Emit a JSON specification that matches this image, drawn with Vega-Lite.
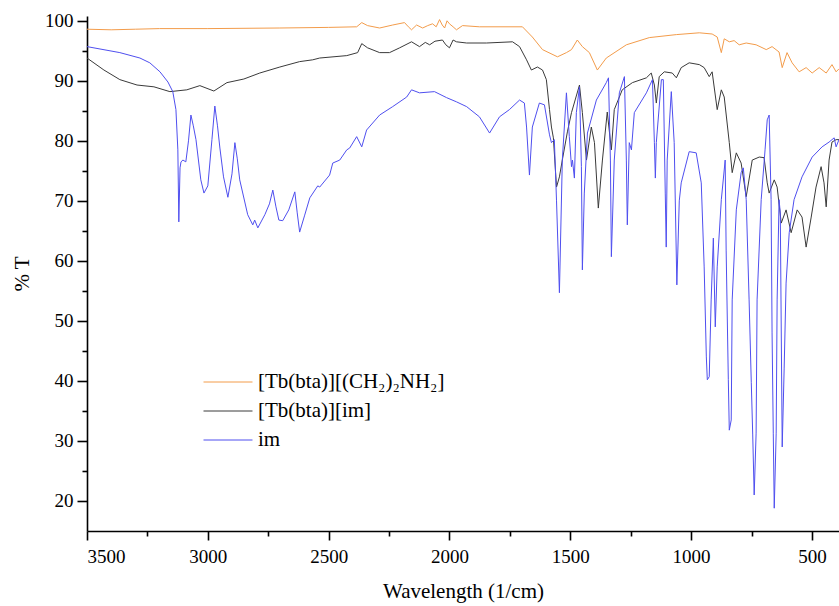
{
"$schema": "https://vega.github.io/schema/vega-lite/v6.json",
"width": 752, "height": 515,
"autosize": {"type": "none"},
"padding": {"left": 87, "top": 16, "right": 0, "bottom": 75},
"background": "white",
"config": {"view": {"stroke": null}, "font": "Liberation Serif"},
"data": {"values": [
{"s":"[Tb(bta)][(CH₂)₂NH₂]","x":3500,"y":98.6},{"s":"[Tb(bta)][(CH₂)₂NH₂]","x":3400,"y":98.5},{"s":"[Tb(bta)][(CH₂)₂NH₂]","x":3300,"y":98.6},{"s":"[Tb(bta)][(CH₂)₂NH₂]","x":3200,"y":98.7},{"s":"[Tb(bta)][(CH₂)₂NH₂]","x":3000,"y":98.7},{"s":"[Tb(bta)][(CH₂)₂NH₂]","x":2702,"y":98.8},{"s":"[Tb(bta)][(CH₂)₂NH₂]","x":2500,"y":98.9},{"s":"[Tb(bta)][(CH₂)₂NH₂]","x":2384,"y":99.0},{"s":"[Tb(bta)][(CH₂)₂NH₂]","x":2363,"y":99.7},{"s":"[Tb(bta)][(CH₂)₂NH₂]","x":2339,"y":99.2},{"s":"[Tb(bta)][(CH₂)₂NH₂]","x":2289,"y":98.8},{"s":"[Tb(bta)][(CH₂)₂NH₂]","x":2235,"y":99.3},{"s":"[Tb(bta)][(CH₂)₂NH₂]","x":2186,"y":99.7},{"s":"[Tb(bta)][(CH₂)₂NH₂]","x":2170,"y":99.0},{"s":"[Tb(bta)][(CH₂)₂NH₂]","x":2157,"y":98.5},{"s":"[Tb(bta)][(CH₂)₂NH₂]","x":2136,"y":99.3},{"s":"[Tb(bta)][(CH₂)₂NH₂]","x":2111,"y":98.8},{"s":"[Tb(bta)][(CH₂)₂NH₂]","x":2090,"y":99.2},{"s":"[Tb(bta)][(CH₂)₂NH₂]","x":2070,"y":99.5},{"s":"[Tb(bta)][(CH₂)₂NH₂]","x":2055,"y":99.0},{"s":"[Tb(bta)][(CH₂)₂NH₂]","x":2041,"y":100.2},{"s":"[Tb(bta)][(CH₂)₂NH₂]","x":2030,"y":99.3},{"s":"[Tb(bta)][(CH₂)₂NH₂]","x":2020,"y":98.8},{"s":"[Tb(bta)][(CH₂)₂NH₂]","x":2010,"y":100.0},{"s":"[Tb(bta)][(CH₂)₂NH₂]","x":2000,"y":99.5},{"s":"[Tb(bta)][(CH₂)₂NH₂]","x":1985,"y":99.0},{"s":"[Tb(bta)][(CH₂)₂NH₂]","x":1971,"y":98.5},{"s":"[Tb(bta)][(CH₂)₂NH₂]","x":1946,"y":99.2},{"s":"[Tb(bta)][(CH₂)₂NH₂]","x":1876,"y":99.0},{"s":"[Tb(bta)][(CH₂)₂NH₂]","x":1698,"y":99.0},{"s":"[Tb(bta)][(CH₂)₂NH₂]","x":1657,"y":97.3},{"s":"[Tb(bta)][(CH₂)₂NH₂]","x":1615,"y":95.2},{"s":"[Tb(bta)][(CH₂)₂NH₂]","x":1553,"y":94.0},{"s":"[Tb(bta)][(CH₂)₂NH₂]","x":1516,"y":94.7},{"s":"[Tb(bta)][(CH₂)₂NH₂]","x":1495,"y":95.2},{"s":"[Tb(bta)][(CH₂)₂NH₂]","x":1471,"y":96.8},{"s":"[Tb(bta)][(CH₂)₂NH₂]","x":1450,"y":95.7},{"s":"[Tb(bta)][(CH₂)₂NH₂]","x":1421,"y":94.7},{"s":"[Tb(bta)][(CH₂)₂NH₂]","x":1388,"y":91.8},{"s":"[Tb(bta)][(CH₂)₂NH₂]","x":1351,"y":93.8},{"s":"[Tb(bta)][(CH₂)₂NH₂]","x":1268,"y":96.0},{"s":"[Tb(bta)][(CH₂)₂NH₂]","x":1173,"y":97.2},{"s":"[Tb(bta)][(CH₂)₂NH₂]","x":1061,"y":97.7},{"s":"[Tb(bta)][(CH₂)₂NH₂]","x":966,"y":98.0},{"s":"[Tb(bta)][(CH₂)₂NH₂]","x":913,"y":97.8},{"s":"[Tb(bta)][(CH₂)₂NH₂]","x":892,"y":97.3},{"s":"[Tb(bta)][(CH₂)₂NH₂]","x":875,"y":94.7},{"s":"[Tb(bta)][(CH₂)₂NH₂]","x":863,"y":97.0},{"s":"[Tb(bta)][(CH₂)₂NH₂]","x":842,"y":96.5},{"s":"[Tb(bta)][(CH₂)₂NH₂]","x":822,"y":96.7},{"s":"[Tb(bta)][(CH₂)₂NH₂]","x":801,"y":96.0},{"s":"[Tb(bta)][(CH₂)₂NH₂]","x":772,"y":96.3},{"s":"[Tb(bta)][(CH₂)₂NH₂]","x":731,"y":96.0},{"s":"[Tb(bta)][(CH₂)₂NH₂]","x":689,"y":95.2},{"s":"[Tb(bta)][(CH₂)₂NH₂]","x":665,"y":95.7},{"s":"[Tb(bta)][(CH₂)₂NH₂]","x":636,"y":94.8},{"s":"[Tb(bta)][(CH₂)₂NH₂]","x":623,"y":92.2},{"s":"[Tb(bta)][(CH₂)₂NH₂]","x":603,"y":94.7},{"s":"[Tb(bta)][(CH₂)₂NH₂]","x":582,"y":93.0},{"s":"[Tb(bta)][(CH₂)₂NH₂]","x":553,"y":91.5},{"s":"[Tb(bta)][(CH₂)₂NH₂]","x":524,"y":92.2},{"s":"[Tb(bta)][(CH₂)₂NH₂]","x":499,"y":91.3},{"s":"[Tb(bta)][(CH₂)₂NH₂]","x":470,"y":92.2},{"s":"[Tb(bta)][(CH₂)₂NH₂]","x":441,"y":91.3},{"s":"[Tb(bta)][(CH₂)₂NH₂]","x":417,"y":92.7},{"s":"[Tb(bta)][(CH₂)₂NH₂]","x":400,"y":91.5},{"s":"[Tb(bta)][(CH₂)₂NH₂]","x":388,"y":92.0},
{"s":"[Tb(bta)][im]","x":3500,"y":93.8},{"s":"[Tb(bta)][im]","x":3430,"y":91.8},{"s":"[Tb(bta)][im]","x":3364,"y":90.2},{"s":"[Tb(bta)][im]","x":3293,"y":89.3},{"s":"[Tb(bta)][im]","x":3223,"y":89.0},{"s":"[Tb(bta)][im]","x":3157,"y":88.2},{"s":"[Tb(bta)][im]","x":3087,"y":88.5},{"s":"[Tb(bta)][im]","x":3033,"y":89.2},{"s":"[Tb(bta)][im]","x":2975,"y":88.3},{"s":"[Tb(bta)][im]","x":2921,"y":89.7},{"s":"[Tb(bta)][im]","x":2851,"y":90.3},{"s":"[Tb(bta)][im]","x":2785,"y":91.3},{"s":"[Tb(bta)][im]","x":2702,"y":92.3},{"s":"[Tb(bta)][im]","x":2620,"y":93.2},{"s":"[Tb(bta)][im]","x":2566,"y":93.5},{"s":"[Tb(bta)][im]","x":2537,"y":93.8},{"s":"[Tb(bta)][im]","x":2425,"y":94.2},{"s":"[Tb(bta)][im]","x":2380,"y":94.7},{"s":"[Tb(bta)][im]","x":2363,"y":96.2},{"s":"[Tb(bta)][im]","x":2339,"y":95.5},{"s":"[Tb(bta)][im]","x":2289,"y":94.7},{"s":"[Tb(bta)][im]","x":2248,"y":94.7},{"s":"[Tb(bta)][im]","x":2206,"y":95.5},{"s":"[Tb(bta)][im]","x":2157,"y":96.5},{"s":"[Tb(bta)][im]","x":2124,"y":95.7},{"s":"[Tb(bta)][im]","x":2100,"y":96.4},{"s":"[Tb(bta)][im]","x":2082,"y":96.0},{"s":"[Tb(bta)][im]","x":2060,"y":96.6},{"s":"[Tb(bta)][im]","x":2029,"y":96.8},{"s":"[Tb(bta)][im]","x":2015,"y":96.0},{"s":"[Tb(bta)][im]","x":2000,"y":95.5},{"s":"[Tb(bta)][im]","x":1985,"y":96.8},{"s":"[Tb(bta)][im]","x":1971,"y":96.5},{"s":"[Tb(bta)][im]","x":1929,"y":96.3},{"s":"[Tb(bta)][im]","x":1847,"y":96.3},{"s":"[Tb(bta)][im]","x":1739,"y":96.5},{"s":"[Tb(bta)][im]","x":1710,"y":95.7},{"s":"[Tb(bta)][im]","x":1681,"y":93.5},{"s":"[Tb(bta)][im]","x":1661,"y":91.8},{"s":"[Tb(bta)][im]","x":1636,"y":92.3},{"s":"[Tb(bta)][im]","x":1615,"y":91.8},{"s":"[Tb(bta)][im]","x":1599,"y":90.2},{"s":"[Tb(bta)][im]","x":1586,"y":85.2},{"s":"[Tb(bta)][im]","x":1578,"y":82.3},{"s":"[Tb(bta)][im]","x":1570,"y":80.5},{"s":"[Tb(bta)][im]","x":1557,"y":72.3},{"s":"[Tb(bta)][im]","x":1545,"y":74.0},{"s":"[Tb(bta)][im]","x":1533,"y":76.8},{"s":"[Tb(bta)][im]","x":1512,"y":81.5},{"s":"[Tb(bta)][im]","x":1495,"y":84.7},{"s":"[Tb(bta)][im]","x":1462,"y":89.3},{"s":"[Tb(bta)][im]","x":1450,"y":84.7},{"s":"[Tb(bta)][im]","x":1433,"y":76.8},{"s":"[Tb(bta)][im]","x":1413,"y":82.3},{"s":"[Tb(bta)][im]","x":1400,"y":79.7},{"s":"[Tb(bta)][im]","x":1384,"y":68.8},{"s":"[Tb(bta)][im]","x":1367,"y":76.8},{"s":"[Tb(bta)][im]","x":1347,"y":84.8},{"s":"[Tb(bta)][im]","x":1330,"y":78.5},{"s":"[Tb(bta)][im]","x":1318,"y":85.2},{"s":"[Tb(bta)][im]","x":1285,"y":88.5},{"s":"[Tb(bta)][im]","x":1243,"y":89.7},{"s":"[Tb(bta)][im]","x":1185,"y":90.5},{"s":"[Tb(bta)][im]","x":1165,"y":91.3},{"s":"[Tb(bta)][im]","x":1152,"y":89.3},{"s":"[Tb(bta)][im]","x":1144,"y":86.3},{"s":"[Tb(bta)][im]","x":1132,"y":90.7},{"s":"[Tb(bta)][im]","x":1111,"y":91.5},{"s":"[Tb(bta)][im]","x":1078,"y":91.3},{"s":"[Tb(bta)][im]","x":1061,"y":90.5},{"s":"[Tb(bta)][im]","x":1041,"y":92.2},{"s":"[Tb(bta)][im]","x":1008,"y":93.0},{"s":"[Tb(bta)][im]","x":966,"y":92.7},{"s":"[Tb(bta)][im]","x":946,"y":92.2},{"s":"[Tb(bta)][im]","x":925,"y":90.7},{"s":"[Tb(bta)][im]","x":913,"y":91.5},{"s":"[Tb(bta)][im]","x":892,"y":85.2},{"s":"[Tb(bta)][im]","x":875,"y":88.5},{"s":"[Tb(bta)][im]","x":863,"y":87.3},{"s":"[Tb(bta)][im]","x":842,"y":79.7},{"s":"[Tb(bta)][im]","x":830,"y":74.7},{"s":"[Tb(bta)][im]","x":813,"y":78.0},{"s":"[Tb(bta)][im]","x":793,"y":76.3},{"s":"[Tb(bta)][im]","x":772,"y":70.7},{"s":"[Tb(bta)][im]","x":747,"y":76.8},{"s":"[Tb(bta)][im]","x":718,"y":77.3},{"s":"[Tb(bta)][im]","x":698,"y":77.2},{"s":"[Tb(bta)][im]","x":685,"y":73.0},{"s":"[Tb(bta)][im]","x":677,"y":71.3},{"s":"[Tb(bta)][im]","x":656,"y":73.5},{"s":"[Tb(bta)][im]","x":644,"y":72.3},{"s":"[Tb(bta)][im]","x":627,"y":66.3},{"s":"[Tb(bta)][im]","x":607,"y":68.5},{"s":"[Tb(bta)][im]","x":586,"y":64.7},{"s":"[Tb(bta)][im]","x":561,"y":68.5},{"s":"[Tb(bta)][im]","x":541,"y":67.3},{"s":"[Tb(bta)][im]","x":524,"y":62.3},{"s":"[Tb(bta)][im]","x":503,"y":67.3},{"s":"[Tb(bta)][im]","x":483,"y":72.3},{"s":"[Tb(bta)][im]","x":462,"y":75.7},{"s":"[Tb(bta)][im]","x":450,"y":73.0},{"s":"[Tb(bta)][im]","x":441,"y":69.0},{"s":"[Tb(bta)][im]","x":429,"y":76.8},{"s":"[Tb(bta)][im]","x":417,"y":79.8},{"s":"[Tb(bta)][im]","x":400,"y":80.2},{"s":"[Tb(bta)][im]","x":388,"y":80.2},
{"s":"im","x":3500,"y":95.7},{"s":"im","x":3364,"y":94.7},{"s":"im","x":3281,"y":93.8},{"s":"im","x":3240,"y":93.0},{"s":"im","x":3198,"y":91.5},{"s":"im","x":3165,"y":89.8},{"s":"im","x":3145,"y":88.2},{"s":"im","x":3132,"y":85.2},{"s":"im","x":3124,"y":78.5},{"s":"im","x":3120,"y":66.5},{"s":"im","x":3115,"y":75.5},{"s":"im","x":3111,"y":76.5},{"s":"im","x":3103,"y":76.8},{"s":"im","x":3091,"y":76.5},{"s":"im","x":3080,"y":80.0},{"s":"im","x":3070,"y":84.3},{"s":"im","x":3060,"y":82.5},{"s":"im","x":3049,"y":80.2},{"s":"im","x":3029,"y":73.5},{"s":"im","x":3016,"y":71.3},{"s":"im","x":3000,"y":72.5},{"s":"im","x":2983,"y":80.2},{"s":"im","x":2971,"y":85.8},{"s":"im","x":2960,"y":82.5},{"s":"im","x":2950,"y":78.8},{"s":"im","x":2935,"y":74.0},{"s":"im","x":2917,"y":70.6},{"s":"im","x":2900,"y":74.5},{"s":"im","x":2888,"y":79.7},{"s":"im","x":2878,"y":77.0},{"s":"im","x":2868,"y":73.5},{"s":"im","x":2835,"y":67.7},{"s":"im","x":2814,"y":66.0},{"s":"im","x":2806,"y":66.8},{"s":"im","x":2793,"y":65.5},{"s":"im","x":2764,"y":67.7},{"s":"im","x":2745,"y":69.5},{"s":"im","x":2731,"y":71.8},{"s":"im","x":2718,"y":69.0},{"s":"im","x":2706,"y":66.8},{"s":"im","x":2690,"y":66.7},{"s":"im","x":2665,"y":68.5},{"s":"im","x":2640,"y":71.5},{"s":"im","x":2630,"y":68.0},{"s":"im","x":2620,"y":64.8},{"s":"im","x":2600,"y":67.5},{"s":"im","x":2578,"y":70.5},{"s":"im","x":2545,"y":72.5},{"s":"im","x":2537,"y":72.3},{"s":"im","x":2496,"y":74.3},{"s":"im","x":2483,"y":76.3},{"s":"im","x":2454,"y":76.8},{"s":"im","x":2425,"y":78.5},{"s":"im","x":2413,"y":78.8},{"s":"im","x":2384,"y":80.7},{"s":"im","x":2363,"y":79.0},{"s":"im","x":2343,"y":81.8},{"s":"im","x":2289,"y":84.3},{"s":"im","x":2235,"y":85.7},{"s":"im","x":2177,"y":87.3},{"s":"im","x":2157,"y":88.5},{"s":"im","x":2124,"y":88.0},{"s":"im","x":2062,"y":88.2},{"s":"im","x":2012,"y":87.2},{"s":"im","x":1971,"y":86.5},{"s":"im","x":1929,"y":85.7},{"s":"im","x":1876,"y":84.0},{"s":"im","x":1834,"y":81.3},{"s":"im","x":1793,"y":84.0},{"s":"im","x":1752,"y":85.2},{"s":"im","x":1710,"y":86.8},{"s":"im","x":1690,"y":86.3},{"s":"im","x":1681,"y":82.3},{"s":"im","x":1669,"y":74.3},{"s":"im","x":1657,"y":82.3},{"s":"im","x":1628,"y":86.3},{"s":"im","x":1607,"y":86.0},{"s":"im","x":1586,"y":81.0},{"s":"im","x":1578,"y":79.7},{"s":"im","x":1566,"y":80.2},{"s":"im","x":1557,"y":70.0},{"s":"im","x":1545,"y":54.7},{"s":"im","x":1533,"y":76.8},{"s":"im","x":1516,"y":88.0},{"s":"im","x":1504,"y":80.7},{"s":"im","x":1495,"y":75.7},{"s":"im","x":1491,"y":76.8},{"s":"im","x":1483,"y":73.8},{"s":"im","x":1475,"y":84.7},{"s":"im","x":1462,"y":89.0},{"s":"im","x":1454,"y":75.7},{"s":"im","x":1450,"y":58.5},{"s":"im","x":1442,"y":71.3},{"s":"im","x":1429,"y":81.3},{"s":"im","x":1392,"y":86.8},{"s":"im","x":1351,"y":89.7},{"s":"im","x":1342,"y":90.5},{"s":"im","x":1334,"y":76.8},{"s":"im","x":1330,"y":60.7},{"s":"im","x":1318,"y":76.8},{"s":"im","x":1297,"y":88.0},{"s":"im","x":1276,"y":90.7},{"s":"im","x":1268,"y":76.8},{"s":"im","x":1264,"y":66.0},{"s":"im","x":1256,"y":79.7},{"s":"im","x":1247,"y":78.5},{"s":"im","x":1235,"y":84.7},{"s":"im","x":1185,"y":88.0},{"s":"im","x":1160,"y":90.2},{"s":"im","x":1152,"y":79.7},{"s":"im","x":1148,"y":73.8},{"s":"im","x":1144,"y":79.7},{"s":"im","x":1123,"y":90.2},{"s":"im","x":1115,"y":90.2},{"s":"im","x":1107,"y":71.3},{"s":"im","x":1103,"y":62.3},{"s":"im","x":1099,"y":76.8},{"s":"im","x":1082,"y":88.2},{"s":"im","x":1070,"y":79.7},{"s":"im","x":1059,"y":56.0},{"s":"im","x":1049,"y":70.0},{"s":"im","x":1041,"y":73.0},{"s":"im","x":1008,"y":78.2},{"s":"im","x":979,"y":78.0},{"s":"im","x":958,"y":73.0},{"s":"im","x":946,"y":59.0},{"s":"im","x":937,"y":44.0},{"s":"im","x":933,"y":40.2},{"s":"im","x":925,"y":40.7},{"s":"im","x":917,"y":53.5},{"s":"im","x":908,"y":63.8},{"s":"im","x":900,"y":49.0},{"s":"im","x":892,"y":59.0},{"s":"im","x":875,"y":70.2},{"s":"im","x":859,"y":76.8},{"s":"im","x":855,"y":61.8},{"s":"im","x":846,"y":40.2},{"s":"im","x":842,"y":31.8},{"s":"im","x":834,"y":33.5},{"s":"im","x":830,"y":53.5},{"s":"im","x":813,"y":68.5},{"s":"im","x":793,"y":74.7},{"s":"im","x":784,"y":75.5},{"s":"im","x":772,"y":70.2},{"s":"im","x":760,"y":53.5},{"s":"im","x":751,"y":39.7},{"s":"im","x":745,"y":31.0},{"s":"im","x":739,"y":21.0},{"s":"im","x":731,"y":31.3},{"s":"im","x":727,"y":53.5},{"s":"im","x":710,"y":70.2},{"s":"im","x":694,"y":78.5},{"s":"im","x":685,"y":83.5},{"s":"im","x":677,"y":84.3},{"s":"im","x":669,"y":70.2},{"s":"im","x":665,"y":48.0},{"s":"im","x":660,"y":31.3},{"s":"im","x":656,"y":18.8},{"s":"im","x":648,"y":31.3},{"s":"im","x":644,"y":53.5},{"s":"im","x":636,"y":70.2},{"s":"im","x":631,"y":68.0},{"s":"im","x":623,"y":29.0},{"s":"im","x":615,"y":42.0},{"s":"im","x":607,"y":56.3},{"s":"im","x":594,"y":64.7},{"s":"im","x":574,"y":70.2},{"s":"im","x":541,"y":74.0},{"s":"im","x":499,"y":77.3},{"s":"im","x":458,"y":79.0},{"s":"im","x":429,"y":79.8},{"s":"im","x":408,"y":80.5},{"s":"im","x":400,"y":79.0},{"s":"im","x":388,"y":80.2}
]},
"mark": {"type": "line", "strokeWidth": 1, "clip": true},
"encoding": {
  "x": {"field": "x", "type": "quantitative",
    "scale": {"domain": [388, 3500], "reverse": true, "nice": false, "zero": false},
    "axis": {"title": "Wavelength (1/cm)", "values": [500,750,1000,1250,1500,1750,2000,2250,2500,2750,3000,3250,3500],
      "labelExpr": "datum.value % 500 === 0 ? format(datum.value, 'd') : ''",
      "tickSize": {"condition": {"test": "datum.value % 500 !== 0", "value": 5}, "value": 9},
      "grid": false, "domainColor": "#000000", "domainWidth": 1.6, "tickColor": "#000000", "tickWidth": 1.6,
      "labelFont": "Liberation Serif", "labelFontSize": 19, "labelColor": "#000000", "labelPadding": 7,
      "titleFont": "Liberation Serif", "titleFontSize": 21, "titleFontWeight": "normal", "titleColor": "#000000", "titlePadding": 14}},
  "y": {"field": "y", "type": "quantitative",
    "scale": {"domain": [15, 100.8], "nice": false, "zero": false},
    "axis": {"title": "% T", "values": [20,25,30,35,40,45,50,55,60,65,70,75,80,85,90,95,100],
      "labelExpr": "datum.value % 10 === 0 ? format(datum.value, 'd') : ''",
      "tickSize": {"condition": {"test": "datum.value % 10 !== 0", "value": 5}, "value": 10},
      "grid": false, "domainColor": "#000000", "domainWidth": 1.6, "tickColor": "#000000", "tickWidth": 1.6,
      "labelFont": "Liberation Serif", "labelFontSize": 19, "labelColor": "#000000", "labelPadding": 4,
      "titleFont": "Liberation Serif", "titleFontSize": 21, "titleFontWeight": "normal", "titleColor": "#000000", "titlePadding": 12}},
  "color": {"field": "s", "type": "nominal",
    "scale": {"domain": ["[Tb(bta)][(CH₂)₂NH₂]", "[Tb(bta)][im]", "im"], "range": ["#F39C4B", "#3a3a3a", "#4F4FEF"]},
    "legend": {"orient": "none", "legendX": 116, "legendY": 355, "title": null, "symbolType": "stroke", "symbolSize": 2400,
      "symbolStrokeWidth": 1, "labelFont": "Liberation Serif", "labelFontSize": 21, "labelColor": "#000000",
      "clipHeight": 22, "rowPadding": 7, "labelOffset": 5, "labelLimit": 400}}
}
}
